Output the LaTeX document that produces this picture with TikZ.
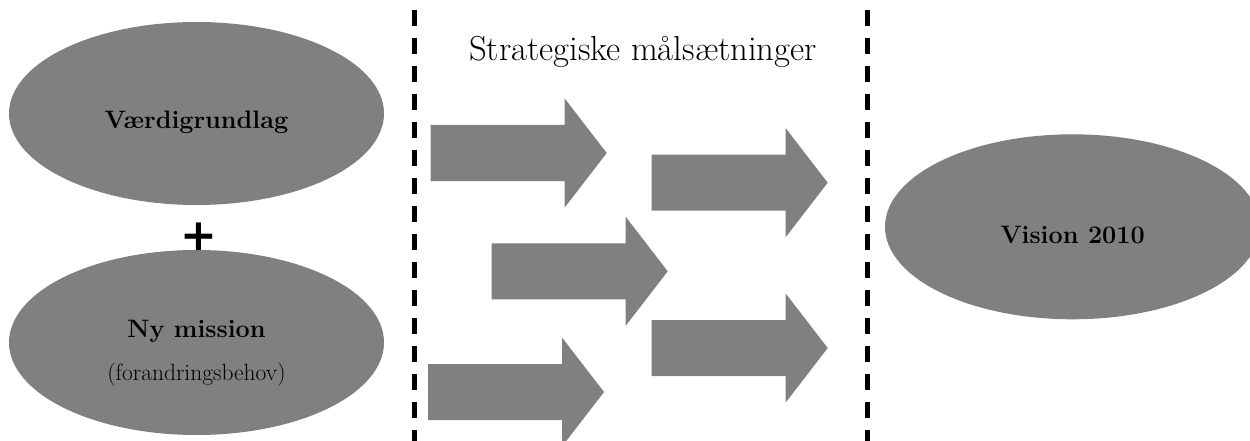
\documentclass[tikz,border=0pt]{standalone}
\usepackage{fontspec}
\newfontfamily\plusfont{DejaVu Sans}
\usetikzlibrary{shapes.geometric}
\definecolor{shapegray}{RGB}{128,128,128}
\tikzset{
  oval/.style={ellipse, fill=shapegray, draw=none, inner sep=0pt, minimum width=375pt},
  ovaltext/.style={anchor=base, inner sep=0pt, font=\fontsize{25.2}{28}\selectfont\bfseries, text=black},
  smalltext/.style={anchor=base, inner sep=0pt, font=\fontsize{23.5}{26}\selectfont, text=black},
  headtext/.style={anchor=base, inner sep=0pt, font=\fontsize{34.7}{40}\selectfont, text=black},
  divider/.style={line width=4.3pt, dash pattern=on 15.7pt off 12.3pt, line cap=butt, black},
  arrowfill/.style={fill=shapegray}
}
\newcommand\blockarrow[2]{%
  \fill[arrowfill] ({#1},{#2-28}) -- ({#1+134},{#2-28}) -- ({#1+134},{#2-54.5})
    -- ({#1+176},{#2}) -- ({#1+134},{#2+54.5}) -- ({#1+134},{#2+28})
    -- ({#1},{#2+28}) -- cycle;}
\begin{document}
\begin{tikzpicture}[x=1pt, y=-1pt]
  \clip (0,0) rectangle (1250,441);
  \useasboundingbox (0,0) rectangle (1250,441);
  % left ovals
  \node[oval, minimum height=183pt] (vaerdi) at (196.5,113.5) {};
  \node[oval, minimum height=185pt] (mission) at (196.5,342.5) {};
  \node[ovaltext] (vaerditxt) at (196.5,129) {Værdigrundlag};
  \node[ovaltext] (missiontxt) at (196.5,337) {Ny mission};
  \node[smalltext] (behov) at (196.5,380) {(forandringsbehov)};
  \node[inner sep=0pt, font=\fontsize{44}{44}\selectfont\plusfont\bfseries] (plus) at (199.3,236.5) {+};
  % dividers
  \coordinate (d1top) at (414.5,10);
  \coordinate (d1bot) at (414.5,441);
  \coordinate (d2top) at (867.5,10);
  \coordinate (d2bot) at (867.5,441);
  \draw[divider] (d1top) -- (d1bot);
  \draw[divider] (d2top) -- (d2bot);
  % heading
  \node[headtext] (strat) at (643,60.7) {Strategiske målsætninger};
  % block arrows
  \blockarrow{430.7}{153}
  \blockarrow{651.7}{182.7}
  \blockarrow{491.7}{271.3}
  \blockarrow{651.7}{348}
  \blockarrow{428}{392}
  % vision
  \node[oval, minimum height=185pt] (vision) at (1072.5,226.8) {};
  \node[ovaltext] (visiontxt) at (1072.5,243) {Vision 2010};
\end{tikzpicture}
\end{document}
